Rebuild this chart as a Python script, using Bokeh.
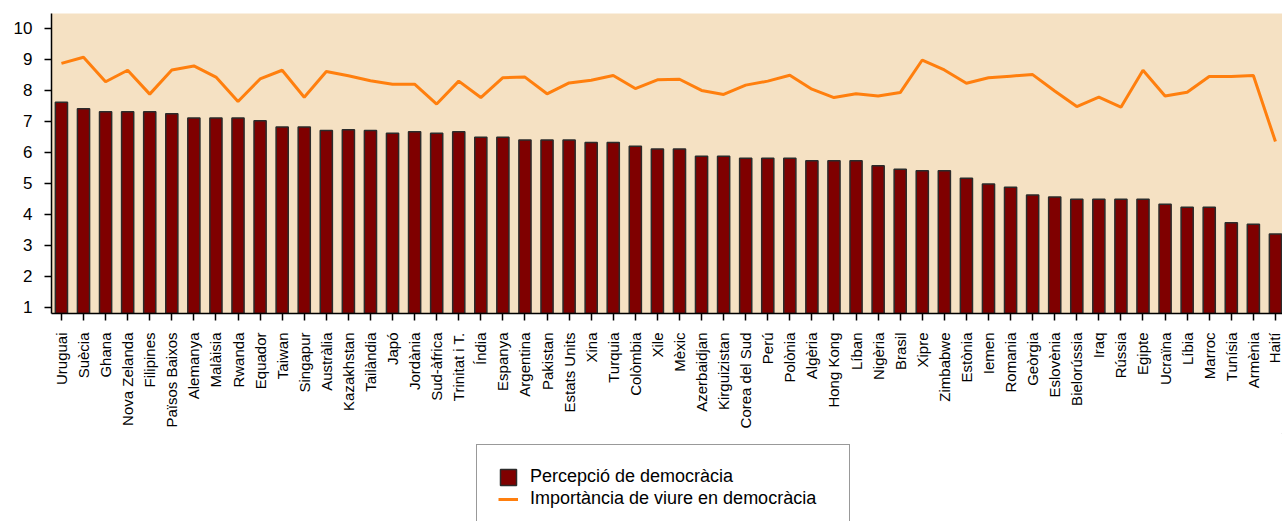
import math
from bokeh.plotting import figure
from bokeh.layouts import column
from bokeh.models import Range1d, FixedTicker, Legend, LegendItem
from bokeh.embed import file_html
from bokeh.resources import INLINE

countries = ["Uruguai", "Suècia", "Ghana", "Nova Zelanda", "Filipines", "Països Baixos",
             "Alemanya", "Malàisia", "Rwanda", "Equador", "Taiwan", "Singapur", "Austràlia",
             "Kazakhstan", "Tailàndia", "Japó", "Jordània", "Sud-àfrica", "Trinitat i T.",
             "Índia", "Espanya", "Argentina", "Pakistan", "Estats Units", "Xina", "Turquia",
             "Colòmbia", "Xile", "Mèxic", "Azerbaidjan", "Kirguizistan", "Corea del Sud",
             "Perú", "Polònia", "Algèria", "Hong Kong", "Líban", "Nigèria", "Brasil", "Xipre",
             "Zimbabwe", "Estònia", "Iemen", "Romania", "Geòrgia", "Eslovènia", "Bielorússia",
             "Iraq", "Rússia", "Egipte", "Ucraïna", "Líbia", "Marroc", "Tunísia", "Armènia",
             "Haití"]

percepcio = [7.62, 7.41, 7.31, 7.31, 7.31, 7.25, 7.11, 7.11, 7.11, 7.02, 6.82, 6.82, 6.71,
             6.73, 6.71, 6.62, 6.67, 6.62, 6.67, 6.49, 6.49, 6.40, 6.40, 6.40, 6.32, 6.32,
             6.20, 6.11, 6.11, 5.88, 5.88, 5.81, 5.81, 5.81, 5.73, 5.73, 5.73, 5.57, 5.46,
             5.41, 5.41, 5.17, 4.98, 4.88, 4.63, 4.56, 4.49, 4.49, 4.49, 4.49, 4.33, 4.23,
             4.23, 3.73, 3.68, 3.37]

importancia = [8.87, 9.07, 8.28, 8.65, 7.88, 8.66, 8.79, 8.43, 7.64, 8.37, 8.65, 7.78, 8.61,
               8.47, 8.31, 8.20, 8.20, 7.56, 8.30, 7.77, 8.41, 8.43, 7.89, 8.24, 8.33, 8.48,
               8.06, 8.34, 8.36, 8.00, 7.87, 8.17, 8.30, 8.49, 8.04, 7.77, 7.89, 7.82, 7.93,
               8.98, 8.66, 8.23, 8.41, 8.46, 8.51, 7.98, 7.48, 7.78, 7.46, 8.65, 7.82, 7.94,
               8.45, 8.45, 8.48, 6.35]

y_ticks = [1, 2, 3, 4, 5, 6, 7, 8, 9, 10]
series_labels = ["Percepció de democràcia", "Importància de viure en democràcia"]

idx = list(range(len(countries)))
bar_base = [0] * len(countries)

FONT = "Liberation Sans"
BAR_FILL = "#7F0000"
BAR_LINE = "#2b2b2b"
LINE_COLOR = "#FF7F0E"

p = figure(frame_width=1231, frame_height=300, output_backend="svg", toolbar_location=None,
           x_range=Range1d(-0.45, 55.32), y_range=Range1d(0.806, 10.48),
           min_border_left=51, min_border_right=0, min_border_top=13, min_border_bottom=120,
           background_fill_color="#F5E1C3", border_fill_color="white",
           outline_line_color=None)
p.grid.visible = False

bars = p.vbar(x=idx, top=percepcio, bottom=bar_base, width=0.55,
              fill_color=BAR_FILL, line_color=BAR_LINE, line_width=1.5)
line = p.line(x=idx, y=importancia, line_color=LINE_COLOR, line_width=3)

# y axis
ya = p.yaxis[0]
ya.ticker = FixedTicker(ticks=y_ticks)
ya.major_label_text_font = FONT
ya.major_label_text_font_size = "17px"
ya.major_label_text_color = "black"
ya.axis_line_color = "black"
ya.axis_line_width = 1.5
ya.major_tick_line_color = "black"
ya.major_tick_line_width = 1.5
ya.major_tick_out = 7
ya.major_tick_in = 0
ya.minor_tick_line_color = None
ya.major_label_standoff = 12

# x axis
xa = p.xaxis[0]
xa.ticker = FixedTicker(ticks=idx)
xa.major_label_overrides = {i: c for i, c in zip(idx, countries)}
xa.major_label_orientation = math.pi / 2
xa.major_label_text_font = FONT
xa.major_label_text_font_size = "15px"
xa.major_label_text_color = "black"
xa.axis_line_color = "black"
xa.axis_line_width = 1.5
xa.major_tick_line_color = "black"
xa.major_tick_line_width = 1.5
xa.major_tick_out = 7
xa.major_tick_in = 0
xa.minor_tick_line_color = None
xa.major_label_standoff = 12

# legend strip below the chart (sample glyphs sit outside its visible range)
q = figure(width=1282, height=88, output_backend="svg", toolbar_location=None,
           x_range=Range1d(0, 1), y_range=Range1d(0, 1),
           x_axis_location=None, y_axis_location=None,
           min_border_left=0, min_border_right=0, min_border_top=0, min_border_bottom=0,
           background_fill_color="white", border_fill_color="white",
           outline_line_color=None)
q.grid.visible = False
lb = q.vbar(x=[5], top=[5], bottom=[4], width=0.5,
            fill_color=BAR_FILL, line_color=BAR_LINE, line_width=1.5)
ll = q.line(x=[5, 6], y=[5, 5], line_color=LINE_COLOR, line_width=3)

legend = Legend(items=[LegendItem(label=series_labels[0], renderers=[lb]),
                       LegendItem(label=series_labels[1], renderers=[ll])],
                location=(425, -10), orientation="vertical")
legend.label_text_font = FONT
legend.label_text_font_size = "18px"
legend.label_text_color = "black"
legend.glyph_width = 20
legend.glyph_height = 20
legend.label_height = 20
legend.label_standoff = 12
legend.label_width = 298
legend.spacing = 1
legend.padding = 21
legend.margin = 0
legend.border_line_color = "#333333"
legend.border_line_width = 1.5
legend.background_fill_color = "white"
legend.background_fill_alpha = 1.0
q.add_layout(legend, "center")

layout = column(p, q, spacing=0)
open("out.html", "w").write(file_html(layout, INLINE))
